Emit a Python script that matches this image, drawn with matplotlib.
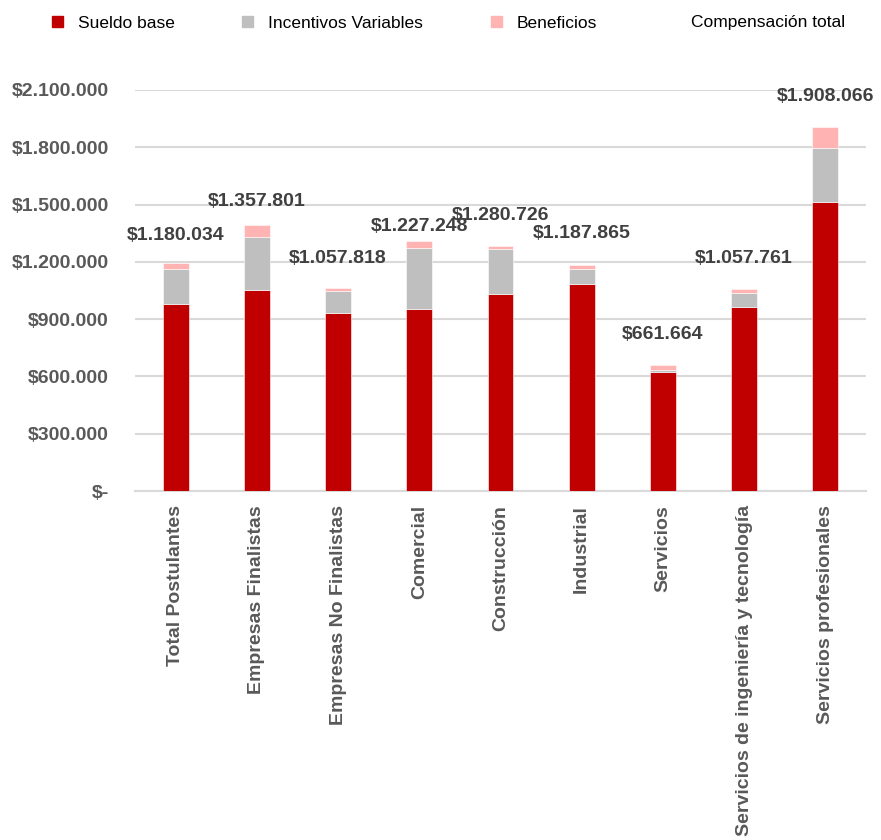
import matplotlib
matplotlib.use("Agg")
from matplotlib import pyplot as plt
from matplotlib import font_manager
from matplotlib.patches import Patch
from matplotlib.lines import Line2D
from matplotlib.ticker import FuncFormatter
import numpy as np

categorias = ["Total Postulantes", "Empresas Finalistas", "Empresas No Finalistas",
              "Comercial", "Construcción", "Industrial", "Servicios",
              "Servicios de ingeniería y tecnología", "Servicios profesionales"]

sueldo_base = [979000, 1052000, 934000, 955000, 1033000, 1082000, 621000, 965000, 1513000]
incentivos = [183000, 276000, 112000, 319000, 234000, 80000, 13000, 73000, 284000]
beneficios = [30000, 65000, 15000, 35000, 16000, 23000, 26000, 18000, 110000]
compensacion_total = [1180034, 1357801, 1057818, 1227248, 1280726, 1187865, 661664, 1057761, 1908066]

yticks = [0, 300000, 600000, 900000, 1200000, 1500000, 1800000, 2100000]

# narrow font if present, else plain Liberation Sans
names = set(f.name for f in font_manager.fontManager.ttflist)
narrow = "Liberation Sans Narrow" if "Liberation Sans Narrow" in names else "Liberation Sans"
plt.rcParams['font.family'] = [narrow, 'DejaVu Sans']


def pesos(v, pos=None):
    if v == 0:
        return "$-"
    return "$" + "{:,.0f}".format(v).replace(",", ".")


fig = plt.figure(figsize=(8.81, 8.40), dpi=100)
ax = fig.add_axes([135 / 881, 349 / 840, 731 / 881, 401 / 840])

x = np.arange(len(categorias))
w = 0.32
rojo, gris, rosa = '#C00000', '#BFBFBF', '#FFB3B3'
base = np.array(sueldo_base)
inc = np.array(incentivos)
ben = np.array(beneficios)

ax.bar(x, base, w, color=rojo, edgecolor='white', linewidth=0.4, zorder=3)
ax.bar(x, inc, w, bottom=base, color=gris, edgecolor='white', linewidth=0.4, zorder=3)
ax.bar(x, ben, w, bottom=base + inc, color=rosa, edgecolor='white', linewidth=0.4, zorder=3)

for i, v in enumerate(compensacion_total):
    ax.annotate(pesos(v), (x[i], v), xytext=(0, 22), textcoords='offset points',
                ha='center', va='center', fontsize=14, fontweight='bold',
                color='#404040', zorder=4)

ax.set_xlim(-0.5, len(categorias) - 0.5)
ax.set_ylim(0, 2100000)
ax.set_yticks(yticks)
ax.yaxis.set_major_formatter(FuncFormatter(pesos))
ax.grid(axis='y', color='#D9D9D9', linewidth=1.5, zorder=0)
ax.set_axisbelow(True)
for s in ['top', 'right', 'left']:
    ax.spines[s].set_visible(False)
ax.spines['bottom'].set_color('#D9D9D9')
ax.spines['bottom'].set_linewidth(1.5)

ax.tick_params(axis='y', length=0, pad=19, labelsize=14, labelcolor='#595959')
ax.tick_params(axis='x', length=0, pad=10)
for t in ax.get_yticklabels():
    t.set_fontweight('bold')

ax.set_xticks(x)
ax.set_xticklabels(categorias, rotation=90, ha='center', va='top',
                   fontsize=14, fontweight='bold', color='#595959',
                   family=['Liberation Sans', 'DejaVu Sans'])

handles = [Patch(color=rojo), Patch(color=gris), Patch(color=rosa),
           Line2D([], [], linestyle='none')]
labels = ["Sueldo base", "Incentivos Variables", "Beneficios", "Compensación total"]
fig.legend(handles, labels, loc='center left', bbox_to_anchor=(52 / 881, 1 - 23 / 840),
           ncol=4, frameon=False, fontsize=12.5, handlelength=0.63, handleheight=0.63,
           handletextpad=0.86, columnspacing=3.9, borderpad=0, borderaxespad=0)

fig.savefig("out.png", dpi=100)
